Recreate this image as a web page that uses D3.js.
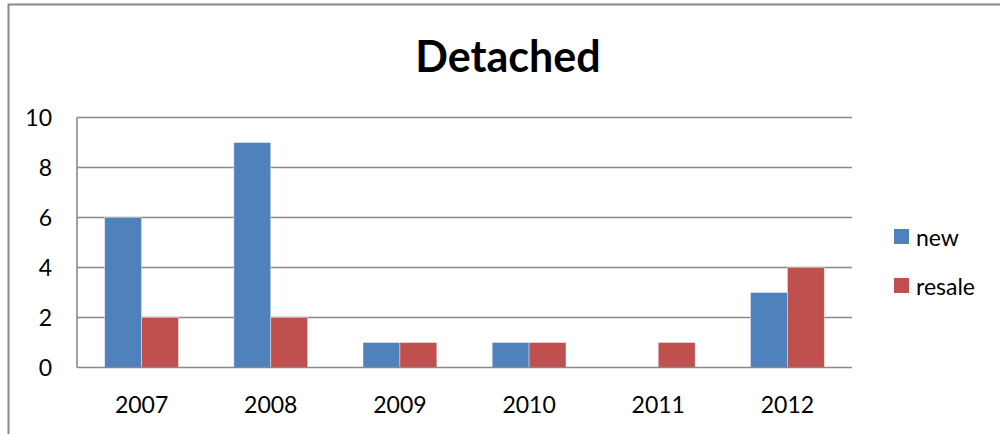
<!DOCTYPE html>
<html>
<head>
<meta charset="utf-8">
<script src="https://cdn.jsdelivr.net/npm/d3@7"></script>
<style>
  body { margin: 0; background: #fff; }
  svg { display: block; font-family: Lato, "Open Sans", sans-serif; }
</style>
</head>
<body>
<div id="chart"></div>
<script>
const years   = ['2007', '2008', '2009', '2010', '2011', '2012'];
const seriesNames = ['new', 'resale'];
const newVals    = [6, 9, 1, 1, 0, 3];
const resaleVals = [2, 2, 1, 1, 1, 4];
const yTicks = [0, 2, 4, 6, 8, 10];

const colors = {new: '#4F81BD', resale: '#C0504D'};
const width = 1000, height = 434;
const plot = {left: 77, right: 852, top: 117.5, bottom: 367.5};

const svg = d3.select('#chart').append('svg')
  .attr('width', width)
  .attr('height', height);

// chart frame (cut off by the picture on right/bottom)
svg.append('rect')
  .attr('x', 8.5).attr('y', 4.5)
  .attr('width', 1200).attr('height', 600)
  .attr('fill', 'none').attr('stroke', '#898989').attr('stroke-width', 2);

const x = d3.scaleBand().domain(years).range([plot.left, plot.right]);
const xs = d3.scaleBand().domain(seriesNames)
  .range([x.bandwidth() * 0.75 / 3.5, x.bandwidth() * 2.75 / 3.5]);
const y = d3.scaleLinear().domain([0, 10]).range([plot.bottom, plot.top]);

// gridlines
svg.append('g').selectAll('line')
  .data(yTicks.slice(1))
  .enter().append('line')
  .attr('x1', plot.left).attr('x2', plot.right)
  .attr('y1', d => y(d)).attr('y2', d => y(d))
  .attr('stroke', '#898989').attr('stroke-width', 1.6);

// bars
const rows = years.map((yr, i) => ({year: yr, new: newVals[i], resale: resaleVals[i]}));
const groups = svg.append('g').selectAll('g')
  .data(rows)
  .enter().append('g')
  .attr('transform', d => `translate(${x(d.year)},0)`);

groups.selectAll('rect')
  .data(d => seriesNames.map(k => ({key: k, value: d[k]})).filter(d => d.value > 0))
  .enter().append('rect')
  .attr('x', d => xs(d.key))
  .attr('width', xs.bandwidth())
  .attr('y', d => y(d.value))
  .attr('height', d => y(0) - y(d.value))
  .attr('fill', d => colors[d.key])
  .attr('stroke', '#fff').attr('stroke-opacity', 0.5).attr('stroke-width', 0.8);

// axes lines
svg.append('line')
  .attr('x1', plot.left).attr('x2', plot.left)
  .attr('y1', plot.top).attr('y2', plot.bottom)
  .attr('stroke', '#898989').attr('stroke-width', 1.6);
svg.append('line')
  .attr('x1', plot.left).attr('x2', plot.right)
  .attr('y1', plot.bottom).attr('y2', plot.bottom)
  .attr('stroke', '#898989').attr('stroke-width', 1.6);

// y tick labels
svg.append('g').selectAll('text')
  .data(yTicks)
  .enter().append('text')
  .attr('x', 52)
  .attr('y', d => y(d) + 8)
  .attr('text-anchor', 'end')
  .attr('font-size', 23)
  .attr('fill', '#000')
  .text(d => d);

// x tick labels
svg.append('g').selectAll('text')
  .data(years)
  .enter().append('text')
  .attr('x', d => x(d) + x.bandwidth() / 2)
  .attr('y', 413)
  .attr('text-anchor', 'middle')
  .attr('font-size', 23)
  .attr('fill', '#000')
  .text(d => d);

// title
svg.append('text')
  .attr('x', 508).attr('y', 72)
  .attr('text-anchor', 'middle')
  .attr('font-size', 43)
  .attr('font-weight', 'bold')
  .text('Detached');

// legend
const legend = svg.append('g').selectAll('g')
  .data(seriesNames)
  .enter().append('g')
  .attr('transform', (d, i) => `translate(894,${229 + i * 49})`);
legend.append('rect')
  .attr('width', 15).attr('height', 15)
  .attr('fill', d => colors[d]);
legend.append('text')
  .attr('x', 22).attr('y', 17)
  .attr('font-size', 23)
  .text(d => d);
</script>
</body>
</html>
